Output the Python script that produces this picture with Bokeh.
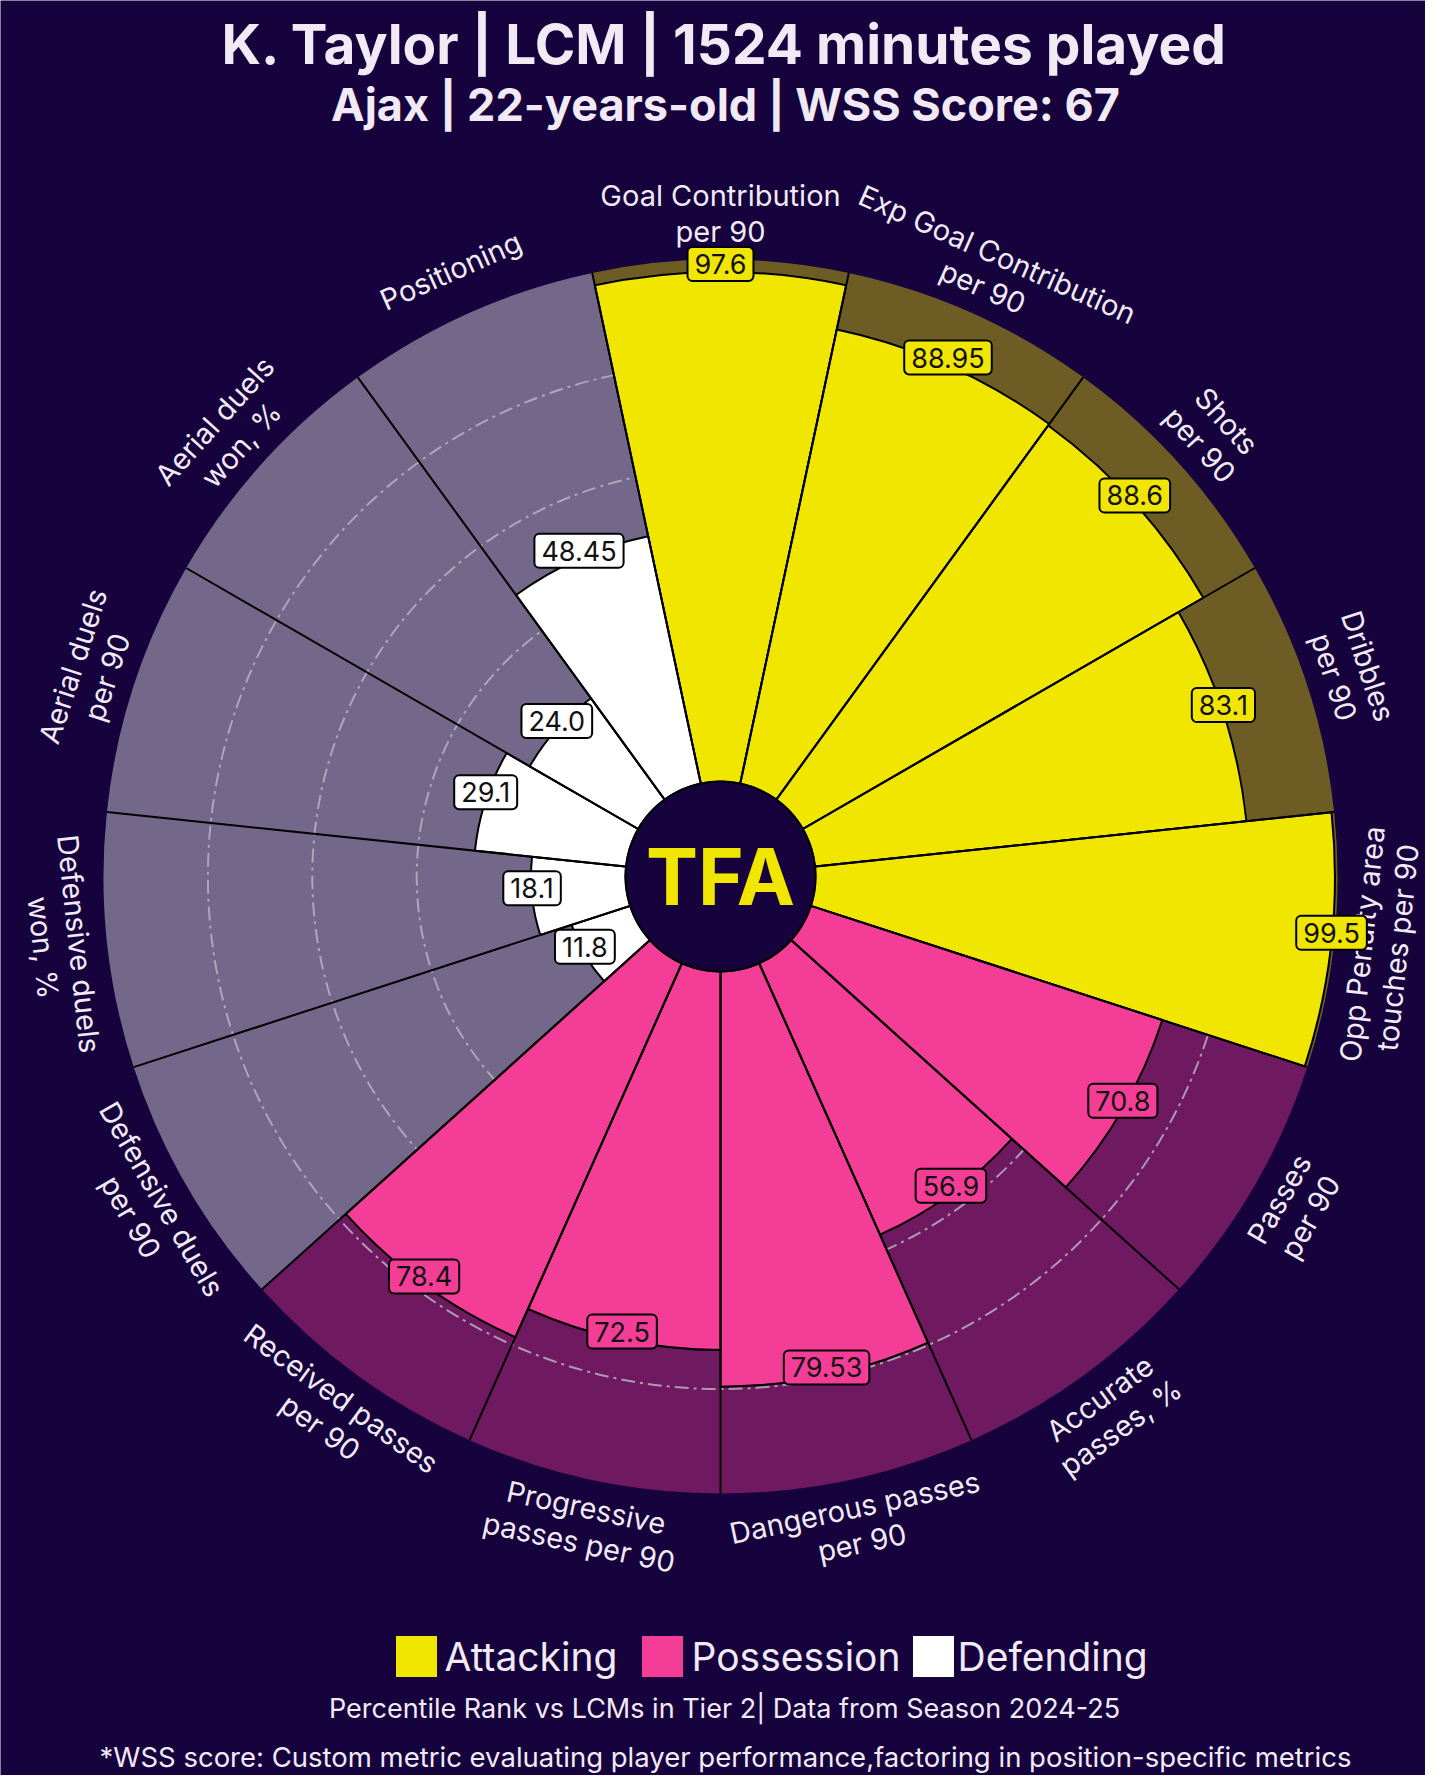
import numpy as np
from bokeh.plotting import figure
from bokeh.models import Range1d
from bokeh.core.properties import value
from bokeh.embed import file_html
from bokeh.resources import INLINE

# ---------------- data ----------------
params = [
    "Goal Contribution\nper 90",
    "Exp Goal Contribution\nper 90",
    "Shots\nper 90",
    "Dribbles\nper 90",
    "Opp Penalty area\ntouches per 90",
    "Passes\nper 90",
    "Accurate\npasses, %",
    "Dangerous passes\nper 90",
    "Progressive\npasses per 90",
    "Received passes\nper 90",
    "Defensive duels\nper 90",
    "Defensive duels\nwon, %",
    "Aerial duels\nper 90",
    "Aerial duels\nwon, %",
    "Positioning",
]
values = [97.6, 88.95, 88.6, 83.1, 99.5, 70.8, 56.9, 79.53, 72.5, 78.4,
          11.8, 18.1, 29.1, 24.0, 48.45]
value_text = ["97.6", "88.95", "88.6", "83.1", "99.5", "70.8", "56.9", "79.53",
              "72.5", "78.4", "11.8", "18.1", "29.1", "24.0", "48.45"]
groups = ["Attacking"] * 5 + ["Possession"] * 5 + ["Defending"] * 5

legend_names = ["Attacking", "Possession", "Defending"]
legend_colors = ["#f0e600", "#f33d97", "#ffffff"]
grid_levels = [40, 60, 80]

title = "K. Taylor | LCM | 1524 minutes played"
subtitle = "Ajax | 22-years-old | WSS Score: 67"
footer1 = "Percentile Rank vs LCMs in Tier 2| Data from Season 2024-25"
footer2 = ("*WSS score: Custom metric evaluating player performance,"
           "factoring in position-specific metrics")
logo_text = "TFA"

# ---------------- layout ----------------
BG = "#16023c"
TXT = "#f1eaf5"
FONT = "Inter"
W, H = 1425, 1775


def sx(X):
    return X


def sy(Y):
    return H - Y


CX, CY = sx(720), sy(876)
R0, R1 = 95.0, 617.0
K = (R1 - R0) / 100.0
RL = 663.0

n = len(values)
step = 2 * np.pi / n
centers = np.pi / 2 - step * np.arange(n)
starts = centers - step / 2
ends = centers + step / 2
cmap = dict(zip(legend_names, legend_colors))
colors = [cmap[g] for g in groups]
radii = R0 + np.array(values) * K

p = figure(width=W, height=H, x_range=Range1d(0, W), y_range=Range1d(0, H),
           output_backend="svg", toolbar_location=None, min_border=0)
p.axis.visible = False
p.grid.visible = False
p.outline_line_color = None
p.background_fill_color = BG
p.border_fill_color = BG

# background slices
p.annular_wedge(x=CX, y=CY, inner_radius=R0, outer_radius=R1,
                start_angle=starts, end_angle=ends,
                fill_color=colors, fill_alpha=0.4, line_color=None)

# grid circles
p.circle(x=[CX] * len(grid_levels), y=[CY] * len(grid_levels),
         radius=list(R0 + np.array(grid_levels) * K),
         fill_color=None, line_color="#b8b2c0", line_alpha=0.85,
         line_width=2, line_dash="14 5 3 5")

# value slices
p.annular_wedge(x=CX, y=CY, inner_radius=R0, outer_radius=list(radii),
                start_angle=starts, end_angle=ends,
                fill_color=colors, line_color="black", line_width=2)

# radial lines
p.segment(x0=CX, y0=CY, x1=list(CX + R1 * np.cos(starts)),
          y1=list(CY + R1 * np.sin(starts)), line_color="black", line_width=2)

# center logo
p.circle(x=[CX], y=[CY], radius=R0, fill_color=BG, line_color="black",
         line_width=2)
p.text(x=[CX], y=[CY], text=[logo_text], text_align="center",
       text_baseline="middle", text_font=value(FONT), text_font_style="bold",
       text_font_size="78px", text_color="#f0e600")

# parameter labels
deg = np.degrees(centers)
deg = (deg + 180) % 360 - 180
rot = np.where(deg >= 0, deg - 90, deg + 90)
p.text(x=list(CX + RL * np.cos(centers)), y=list(CY + RL * np.sin(centers)),
       text=params, angle=list(np.radians(rot)), text_align="center",
       text_baseline="middle", text_font=value(FONT), text_font_size="29px",
       text_color=TXT, text_line_height=1.02)

# value labels
p.text(x=list(CX + radii * np.cos(centers)),
       y=list(CY + radii * np.sin(centers) + 8),
       text=value_text, text_align="center", text_baseline="middle",
       text_font=value(FONT), text_font_size="27px", text_color="#111111",
       background_fill_color=colors, border_line_color="black",
       border_line_width=2, border_radius=5, padding=7)

# titles
p.text(x=[sx(724)], y=[sy(43)], text=[title], text_align="center",
       text_baseline="middle", text_font=value(FONT), text_font_style="bold",
       text_font_size="55px", text_color=TXT)
p.text(x=[sx(725)], y=[sy(104)], text=[subtitle], text_align="center",
       text_baseline="middle", text_font=value(FONT), text_font_style="bold",
       text_font_size="45px", text_color=TXT)

# legend
lx_box = [sx(416), sx(662), sx(933)]
lx_txt = [sx(444), sx(691), sx(957)]
ly = sy(1656)
p.rect(x=lx_box, y=[ly] * 3, width=41, height=41, fill_color=legend_colors,
       line_color=None)
p.text(x=lx_txt, y=[ly] * 3, text=legend_names, text_align="left",
       text_baseline="middle", text_font=value(FONT), text_font_size="39px",
       text_color=TXT)

# footers
p.text(x=[sx(724)], y=[sy(1708)], text=[footer1], text_align="center",
       text_baseline="middle", text_font=value(FONT), text_font_size="27px",
       text_color=TXT)
p.text(x=[sx(725)], y=[sy(1756)], text=[footer2], text_align="center",
       text_baseline="middle", text_font=value(FONT), text_font_size="27.5px",
       text_color=TXT)

open("out.html", "w").write(file_html(p, INLINE))
